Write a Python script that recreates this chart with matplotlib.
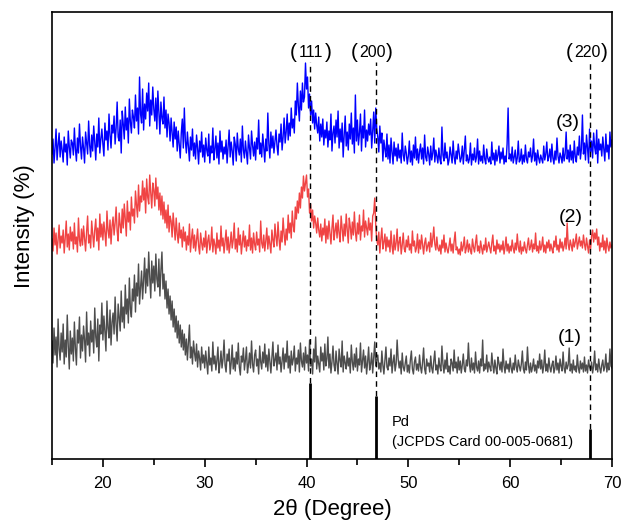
import numpy as np
import matplotlib
matplotlib.use("Agg")
import matplotlib.pyplot as plt
from matplotlib.transforms import offset_copy

plt.rcParams['font.family'] = ['Liberation Sans', 'DejaVu Sans']

# XRD traces, 15-70 deg at 0.1 deg steps (stacked intensity, a.u.)
trace1 = [
    118, 96, 131, 104, 122, 92, 140, 110, 99, 126,
    107, 135, 95, 119, 102, 144, 113, 90, 128, 105,
    121, 98, 137, 111, 94, 129, 116, 142, 101, 124,
    108, 133, 119, 97, 147, 114, 126, 103, 138, 117,
    129, 106, 151, 122, 112, 140, 98, 134, 125, 156,
    119, 143, 127, 108, 158, 131, 121, 149, 114, 137,
    146, 125, 162, 134, 118, 155, 141, 128, 168, 137,
    152, 131, 174, 145, 160, 136, 181, 150, 142, 170,
    158, 184, 147, 176, 163, 195, 155, 171, 188, 160,
    179, 201, 166, 190, 173, 207, 182, 161, 198, 176,
    193, 168, 205, 180, 172, 200, 163, 189, 207, 170,
    185, 160, 178, 151, 170, 145, 163, 139, 158, 132,
    150, 127, 143, 121, 138, 116, 134, 112, 129, 109,
    125, 104, 120, 99, 117, 134, 101, 112, 95, 118,
    106, 98, 115, 92, 108, 101, 89, 112, 96, 104,
    91, 108, 97, 85, 112, 94, 101, 88, 117, 95,
    103, 89, 99, 112, 86, 95, 108, 91, 100, 119,
    94, 87, 105, 98, 110, 85, 96, 114, 90, 101,
    88, 107, 95, 116, 92, 84, 103, 97, 111, 89,
    99, 112, 86, 94, 106, 91, 118, 95, 87, 104,
    109, 93, 100, 85, 113, 97, 90, 107, 96, 115,
    92, 104, 88, 110, 98, 86, 101, 117, 93, 99,
    106, 89, 114, 95, 102, 87, 98, 111, 90, 105,
    97, 118, 91, 103, 86, 108, 94, 100, 113, 88,
    101, 95, 109, 87, 116, 98, 92, 106, 89, 112,
    96, 104, 88, 119, 93, 100, 85, 110, 97, 122,
    90, 103, 95, 87, 112, 98, 106, 89, 115, 93,
    100, 122, 91, 105, 86, 97, 113, 94, 88, 108,
    95, 85, 110, 99, 92, 118, 87, 103, 96, 90,
    107, 93, 101, 86, 114, 97, 89, 105, 92, 111,
    88, 100, 94, 116, 87, 98, 109, 91, 103, 85,
    97, 112, 89, 95, 106, 86, 101, 117, 93, 99,
    104, 90, 96, 87, 108, 94, 85, 99, 112, 92,
    89, 101, 93, 110, 86, 97, 104, 88, 95, 119,
    100, 91, 98, 85, 106, 92, 88, 96, 103, 87,
    94, 86, 99, 108, 90, 85, 97, 102, 89, 95,
    88, 104, 92, 86, 97, 111, 90, 85, 100, 93,
    96, 87, 103, 91, 86, 98, 108, 89, 94, 85,
    101, 92, 88, 113, 95, 86, 99, 90, 106, 87,
    93, 85, 100, 96, 88, 109, 91, 97, 86, 102,
    89, 98, 86, 94, 105, 90, 87, 99, 93, 116,
    95, 87, 101, 89, 96, 86, 107, 92, 88, 98,
    86, 100, 93, 119, 88, 95, 90, 104, 87, 97,
    92, 88, 106, 94, 86, 99, 91, 85, 102, 96,
    89, 97, 87, 110, 93, 86, 98, 90, 95, 87,
    101, 91, 86, 96, 89, 104, 92, 87, 99, 93,
    88, 95, 108, 90, 86, 97, 89, 112, 94, 86,
    96, 87, 92, 100, 88, 94, 86, 98, 91, 105,
    90, 99, 86, 93, 109, 88, 95, 87, 101, 92,
    87, 94, 98, 86, 91, 103, 89, 96, 86, 100,
    93, 88, 107, 91, 86, 97, 90, 94, 111, 88,
    95, 86, 99, 89, 93, 87, 104, 91, 86, 98,
    90, 96, 87, 102, 88, 94, 86, 99, 92, 89,
    97, 86, 93, 108, 89, 95, 87, 100, 91, 86,
    94, 99, 88, 92, 105, 87, 96, 89, 110, 93,
    91,
]

trace2 = [
    220, 208, 231, 214, 226, 205, 219, 234, 211, 223,
    216, 229, 206, 221, 238, 212, 225, 209, 232, 218,
    227, 210, 236, 215, 222, 207, 241, 219, 213, 230,
    214, 233, 220, 208, 227, 243, 216, 224, 211, 238,
    225, 212, 229, 240, 218, 231, 209, 245, 222, 235,
    219, 237, 226, 213, 248, 229, 221, 239, 215, 233,
    242, 224, 236, 252, 228, 218, 246, 234, 226, 250,
    231, 255, 240, 223, 258, 237, 247, 229, 262, 243,
    250, 236, 268, 254, 242, 274, 248, 263, 257, 278,
    259, 271, 246, 280, 262, 255, 284, 266, 251, 276,
    269, 253, 281, 260, 272, 249, 266, 244, 263, 240,
    257, 236, 249, 231, 254, 227, 243, 238, 222, 246,
    233, 219, 241, 225, 216, 236, 221, 229, 212, 232,
    218, 227, 209, 223, 214, 235, 207, 220, 230, 211,
    224, 208, 219, 230, 213, 205, 226, 216, 209, 221,
    212, 228, 206, 218, 224, 209, 215, 232, 207, 220,
    214, 205, 226, 211, 219, 208, 233, 213, 221, 206,
    217, 229, 209, 222, 206, 215, 227, 211, 219, 236,
    210, 220, 207, 231, 214, 224, 205, 217, 228, 212,
    223, 208, 219, 213, 234, 209, 221, 206, 226, 215,
    209, 227, 214, 220, 207, 238, 216, 211, 224, 208,
    218, 231, 210, 223, 215, 206, 229, 219, 212, 235,
    222, 213, 237, 220, 209, 228, 217, 241, 225, 214,
    230, 219, 244, 226, 236, 221, 248, 233, 227, 252,
    240, 258, 246, 266, 251, 272, 261, 283, 268, 276,
    284, 262, 270, 246, 255, 238, 249, 231, 243, 236,
    226, 241, 229, 222, 235, 218, 231, 224, 240, 216,
    233, 220, 238, 227, 215, 231, 244, 219, 228, 236,
    221, 239, 226, 217, 243, 230, 218, 235, 223, 245,
    229, 216, 241, 232, 220, 237, 224, 247, 227, 218,
    236, 225, 244, 219, 233, 228, 249, 222, 238, 231,
    224, 241, 229, 236, 218, 243, 246, 261, 233, 219,
    214, 227, 206, 220, 231, 210, 217, 225, 208, 222,
    212, 219, 207, 228, 213, 205, 224, 209, 216, 230,
    208, 217, 222, 205, 214, 226, 210, 207, 219, 212,
    223, 209, 215, 206, 228, 213, 218, 207, 211, 225,
    206, 219, 210, 224, 214, 205, 216, 221, 208, 213,
    217, 207, 226, 212, 220, 232, 215, 209, 222, 211,
    208, 214, 205, 219, 211, 224, 207, 216, 210, 206,
    213, 221, 208, 215, 206, 218, 227, 209, 212, 205,
    210, 204, 217, 208, 213, 222, 206, 211, 219, 207,
    215, 209, 205, 220, 212, 207, 216, 224, 208, 213,
    206, 218, 211, 205, 214, 209, 221, 207, 212, 217,
    211, 206, 216, 224, 208, 213, 205, 219, 210, 215,
    207, 214, 209, 218, 205, 212, 222, 208, 215, 206,
    213, 208, 219, 211, 206, 216, 209, 225, 212, 207,
    218, 205, 212, 208, 217, 210, 206, 214, 221, 209,
    212, 219, 207, 215, 210, 226, 208, 213, 206, 218,
    209, 213, 222, 207, 214, 206, 217, 211, 219, 208,
    215, 210, 206, 218, 212, 223, 209, 214, 207, 220,
    211, 217, 208, 213, 221, 210, 236, 215, 209, 219,
    214, 208, 220, 212, 217, 225, 210, 216, 222, 213,
    218, 211, 224, 215, 209, 221, 213, 206, 219, 210,
    223, 229, 217, 226, 220, 230, 214, 222, 208, 216,
    212, 224, 209, 218, 206, 221, 213, 208, 217, 211,
    214,
]

trace3 = [
    305, 320, 296, 311, 330, 299, 314, 326, 302, 318,
    309, 297, 322, 307, 315, 294, 328, 312, 301, 319,
    316, 304, 331, 310, 298, 321, 306, 335, 313, 300,
    322, 311, 296, 327, 316, 305, 338, 314, 302, 324,
    308, 333, 317, 299, 325, 312, 341, 306, 320, 330,
    315, 303, 336, 319, 328, 309, 345, 324, 311, 334,
    326, 343, 315, 331, 357, 322, 318, 339, 306, 348,
    335, 320, 352, 329, 341, 316, 360, 337, 326, 349,
    342, 331, 364, 338, 351, 325, 382, 345, 336, 370,
    329, 355, 340, 366, 348, 376, 333, 359, 344, 372,
    350, 338, 361, 330, 368, 346, 325, 357, 341, 335,
    362, 331, 349, 322, 345, 336, 318, 341, 327, 312,
    337, 320, 332, 308, 328, 315, 301, 326, 340, 311,
    351, 318, 306, 327, 313, 298, 322, 309, 330, 303,
    316, 300, 324, 311, 295, 318, 307, 327, 302, 314,
    297, 321, 309, 303, 325, 296, 313, 306, 331, 299,
    310, 323, 301, 316, 295, 328, 307, 318, 300, 312,
    305, 319, 296, 313, 329, 302, 317, 308, 294, 322,
    315, 298, 326, 310, 304, 320, 297, 333, 309, 301,
    318, 306, 295, 324, 311, 300, 328, 314, 303, 317,
    299, 321, 310, 339, 305, 316, 302, 325, 312, 297,
    320, 308, 346, 315, 301, 327, 311, 323, 306, 318,
    329, 313, 304, 325, 317, 335, 309, 322, 341, 316,
    327, 345, 319, 336, 323, 351, 331, 340, 326, 358,
    344, 376, 353, 338, 368, 349, 376, 357, 362, 396,
    370, 382, 351, 365, 344, 358, 336, 349, 330, 346,
    334, 326, 342, 318, 335, 322, 340, 314, 329, 321,
    337, 312, 328, 319, 345, 308, 326, 333, 316, 339,
    322, 348, 311, 330, 317, 336, 302, 324, 343, 313,
    327, 309, 335, 320, 346, 315, 331, 306, 364, 318,
    339, 314, 326, 345, 308, 333, 321, 349, 312, 329,
    318, 335, 324, 340, 311, 328, 347, 316, 351, 330,
    322, 307, 333, 316, 326, 298, 319, 310, 302, 325,
    300, 314, 296, 321, 307, 295, 317, 303, 311, 298,
    315, 301, 309, 296, 326, 304, 298, 313, 306, 295,
    303, 318, 297, 308, 294, 314, 301, 322, 299, 310,
    296, 307, 315, 300, 311, 295, 324, 302, 298, 312,
    305, 294, 313, 299, 306, 321, 297, 309, 303, 296,
    311, 300, 295, 332, 304, 298, 316, 301, 307, 294,
    299, 312, 304, 296, 318, 302, 295, 308, 300, 315,
    306, 297, 301, 313, 295, 309, 323, 298, 304, 296,
    300, 316, 294, 305, 299, 311, 297, 302, 320, 295,
    308, 298, 303, 296, 314, 300, 295, 310, 301, 297,
    302, 295, 317, 299, 306, 294, 309, 298, 304, 313,
    296, 307, 300, 311, 295, 303, 297, 315, 351, 300,
    305, 298, 312, 296, 302, 309, 295, 301, 318, 297,
    299, 310, 295, 304, 297, 314, 300, 296, 307, 302,
    311, 297, 303, 320, 298, 306, 294, 309, 301, 296,
    304, 300, 296, 313, 299, 305, 317, 298, 302, 310,
    297, 315, 301, 295, 308, 299, 321, 303, 296, 306,
    302, 296, 311, 298, 305, 327, 300, 309, 297, 314,
    299, 308, 296, 318, 302, 297, 312, 304, 323, 300,
    310, 344, 305, 316, 299, 324, 311, 296, 330, 307,
    318, 301, 326, 312, 305, 329, 296, 320, 309, 315,
    303, 322, 310, 298, 325, 307, 314, 300, 327, 312,
    319,
]

# Pd reference pattern (JCPDS 00-005-0681)
pd_pos = [40.3, 46.8, 67.8]
pd_height = [76, 63, 30]
pd_hkl = ['111', '200', '220']
trace_labels = ['(1)', '(2)', '(3)']

fig = plt.figure(figsize=(6.24, 5.25), dpi=100)
ax = fig.add_axes([0.0833, 0.1257, 0.8974, 0.8514])

colors = ['#4d4d4d', '#f04444', '#0000ff']
for tr, c in zip([trace1, trace2, trace3], colors):
    x = np.linspace(15, 70, len(tr))
    ax.plot(x, tr, color=c, lw=1.0)

ax.vlines(pd_pos, 0, pd_height, color='black', lw=2)
ax.vlines(pd_pos, pd_height, 397, color='black', lw=1, linestyles=(0, (4, 3)))

# hkl labels: small digits inside larger brackets
lt = offset_copy(ax.transData, fig=fig, x=-14, y=-1, units='dots')
rt = offset_copy(ax.transData, fig=fig, x=14, y=-1, units='dots')
for p, hkl, dx in zip(pd_pos, pd_hkl, [0.15, -0.35, -0.25]):
    ax.text(p + dx, 402, hkl, ha='center', va='baseline', fontsize=11.5)
    ax.text(p + dx, 402, '(', ha='right', va='baseline', fontsize=15, transform=lt)
    ax.text(p + dx, 402, ')', ha='left', va='baseline', fontsize=15, transform=rt)

ax.text(65.9, 122, trace_labels[0], ha='center', va='center', fontsize=14)
ax.text(66.0, 242, trace_labels[1], ha='center', va='center', fontsize=14)
ax.text(65.7, 337, trace_labels[2], ha='center', va='center', fontsize=14)

ax.text(48.4, 37, 'Pd', ha='left', va='center', fontsize=10.5)
ax.text(48.4, 17, '(JCPDS Card 00-005-0681)', ha='left', va='center', fontsize=10.5)

ax.set_xlim(15, 70)
ax.set_ylim(0, 447)
ax.set_xticks([20, 30, 40, 50, 60, 70])
ax.set_xticks([15, 25, 35, 45, 55, 65], minor=True)
ax.set_yticks([])
ax.tick_params(axis='x', labelsize=12, direction='out', length=6, width=1.2, pad=6)
ax.tick_params(axis='x', which='minor', length=4, width=1.2)
for s in ax.spines.values():
    s.set_linewidth(1.2)

ax.set_xlabel('2\u03b8 (Degree)', fontsize=16)
ax.xaxis.set_label_coords(0.5, -0.09)
ax.set_ylabel('Intensity (%)', fontsize=16)
ax.yaxis.set_label_coords(-0.03, 0.521)

fig.savefig('out.png', dpi=100)
